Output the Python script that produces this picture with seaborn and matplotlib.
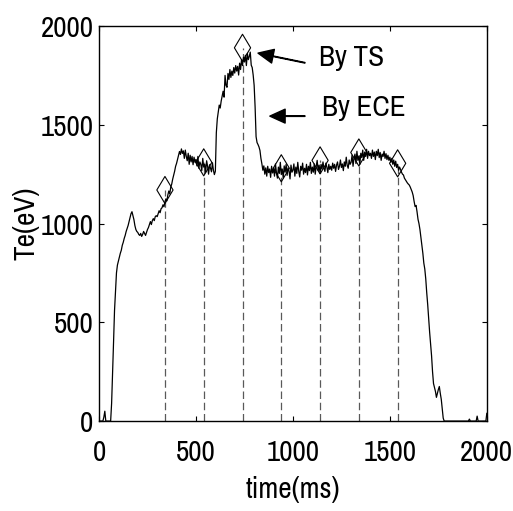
import numpy as np
import matplotlib
matplotlib.use("Agg")
import matplotlib.pyplot as plt
import seaborn as sns

# ECE trace, sampled every 5 ms from 0 to 2000 ms (one row = 100 ms)
t_ece = np.arange(0, 2001, 5)
te_ece = [
    0, 0, 0, 0, 0, 20, 50, 0, 0, 0, 0, 0, 0, 90, 240, 400, 560, 660, 750, 790,
    810, 830, 850, 865, 890, 905, 925, 940, 960, 975, 990, 1010, 1030, 1050, 1060, 1040, 1020, 990, 970, 960,
    955, 945, 940, 950, 935, 945, 960, 950, 940, 955, 970, 980, 995, 1010, 995, 1015, 1025, 1015, 1035, 1040,
    1035, 1050, 1065, 1055, 1075, 1080, 1095, 1085, 1110, 1125, 1115, 1145, 1165, 1150, 1185, 1200, 1225, 1245, 1265, 1290,
    1305, 1325, 1345, 1365, 1350, 1378, 1355, 1368, 1330, 1372, 1340, 1318, 1356, 1300, 1346, 1312, 1340, 1298, 1336, 1310,
    1325, 1292, 1340, 1280, 1312, 1300, 1268, 1330, 1286, 1302, 1260, 1318, 1290, 1250, 1298, 1280, 1262, 1308, 1270, 1248,
    1265, 1460, 1530, 1565, 1600, 1585, 1620, 1645, 1670, 1640, 1750, 1700, 1690, 1760, 1730, 1780, 1740, 1772, 1750, 1790,
    1762, 1800, 1772, 1796, 1752, 1812, 1780, 1830, 1800, 1842, 1818, 1852, 1800, 1862, 1830, 1846, 1868, 1802, 1790, 1752,
    1700, 1590, 1440, 1410, 1400, 1388, 1370, 1330, 1302, 1270, 1292, 1250, 1282, 1240, 1290, 1258, 1276, 1234, 1290, 1256,
    1280, 1240, 1302, 1258, 1230, 1286, 1254, 1310, 1248, 1276, 1230, 1292, 1260, 1300, 1244, 1282, 1266, 1226, 1296, 1260,
    1270, 1302, 1240, 1286, 1254, 1310, 1264, 1236, 1290, 1270, 1306, 1250, 1280, 1258, 1300, 1246, 1290, 1268, 1310, 1254,
    1286, 1260, 1302, 1250, 1290, 1320, 1268, 1296, 1254, 1300, 1276, 1312, 1280, 1264, 1306, 1286, 1258, 1300, 1274, 1290,
    1270, 1306, 1280, 1300, 1264, 1296, 1312, 1274, 1290, 1322, 1284, 1302, 1268, 1312, 1290, 1336, 1294, 1280, 1322, 1300,
    1310, 1346, 1290, 1332, 1352, 1304, 1366, 1320, 1342, 1300, 1356, 1334, 1372, 1320, 1362, 1340, 1376, 1330, 1366, 1344,
    1356, 1330, 1372, 1340, 1362, 1324, 1366, 1344, 1376, 1334, 1360, 1320, 1352, 1340, 1366, 1330, 1354, 1324, 1346, 1320,
    1336, 1310, 1330, 1300, 1322, 1290, 1316, 1284, 1300, 1270, 1286, 1274, 1260, 1250, 1246, 1230, 1222, 1214, 1206, 1200,
    1195, 1185, 1172, 1160, 1142, 1112, 1086, 1092, 1060, 1022, 1000, 970, 930, 890, 850, 800, 770, 720, 650, 590,
    520, 450, 390, 330, 250, 190, 170, 150, 120, 140, 160, 175, 140, 110, 60, 15, 0, 0, 0, 0,
    0, 0, 0, 0, 0, 0, 0, 0, 0, 0, 0, 0, 0, 0, 0, 0, 0, 0, 0, 0,
    0, 0, 10, 0, 0, 0, 0, 0, 0, 0, 25, 0, 0, 0, 0, 0, 0, 0, 0, 0,
    40,
]

# Thomson scattering points
t_ts = [340, 540, 740, 940, 1140, 1340, 1540]
te_ts = [1170, 1310, 1890, 1280, 1320, 1360, 1305]

x_ticks = [0, 500, 1000, 1500, 2000]
y_ticks = [0, 500, 1000, 1500, 2000]

sns.set_style("ticks")
plt.rcParams['font.family'] = ['Liberation Sans Narrow', 'Archivo Narrow', 'DejaVu Sans']
plt.rcParams['text.color'] = 'k'
plt.rcParams['axes.labelcolor'] = 'k'
plt.rcParams['xtick.color'] = 'k'
plt.rcParams['ytick.color'] = 'k'

fig = plt.figure(figsize=(5.13, 5.11), dpi=100)
ax = fig.add_axes([0.193, 0.176, 0.756, 0.773])

ax.vlines(t_ts, 0, te_ts, colors='0.35', linestyles=(0, (6, 3)), lw=0.9)
sns.lineplot(x=t_ece, y=te_ece, color='k', lw=0.9, estimator=None, ax=ax)
sns.scatterplot(x=t_ts, y=te_ts, marker='d', s=190, facecolor='none',
                edgecolor='k', linewidth=0.8, ax=ax, zorder=3)

# arrows + labels
ax.annotate('', xy=(820, 1863), xytext=(1062, 1814),
            arrowprops=dict(facecolor='k', edgecolor='k', width=0.4,
                            headwidth=10, headlength=11, shrink=0))
ax.annotate('', xy=(881, 1544), xytext=(1062, 1544),
            arrowprops=dict(facecolor='k', edgecolor='k', width=0.4,
                            headwidth=10, headlength=11, shrink=0))
ax.text(1134, 1843, 'By TS', fontsize=21, ha='left', va='center')
ax.text(1149, 1590, 'By ECE', fontsize=21, ha='left', va='center')

ax.set_xlim(0, 2000)
ax.set_ylim(0, 2000)
ax.set_xticks(x_ticks)
ax.set_yticks(y_ticks)
ax.tick_params(direction='in', length=3.5, width=0.8, labelsize=21,
               top=True, right=True, color='k')
ax.tick_params(axis='x', pad=13)
ax.tick_params(axis='y', pad=4)
for s in ax.spines.values():
    s.set_visible(True)
    s.set_linewidth(1.0)
    s.set_color('k')

ax.set_xlabel('time(ms)', fontsize=21, labelpad=7)
ax.set_ylabel('Te(eV)', fontsize=21, labelpad=1)

fig.savefig('out.png', dpi=100)
